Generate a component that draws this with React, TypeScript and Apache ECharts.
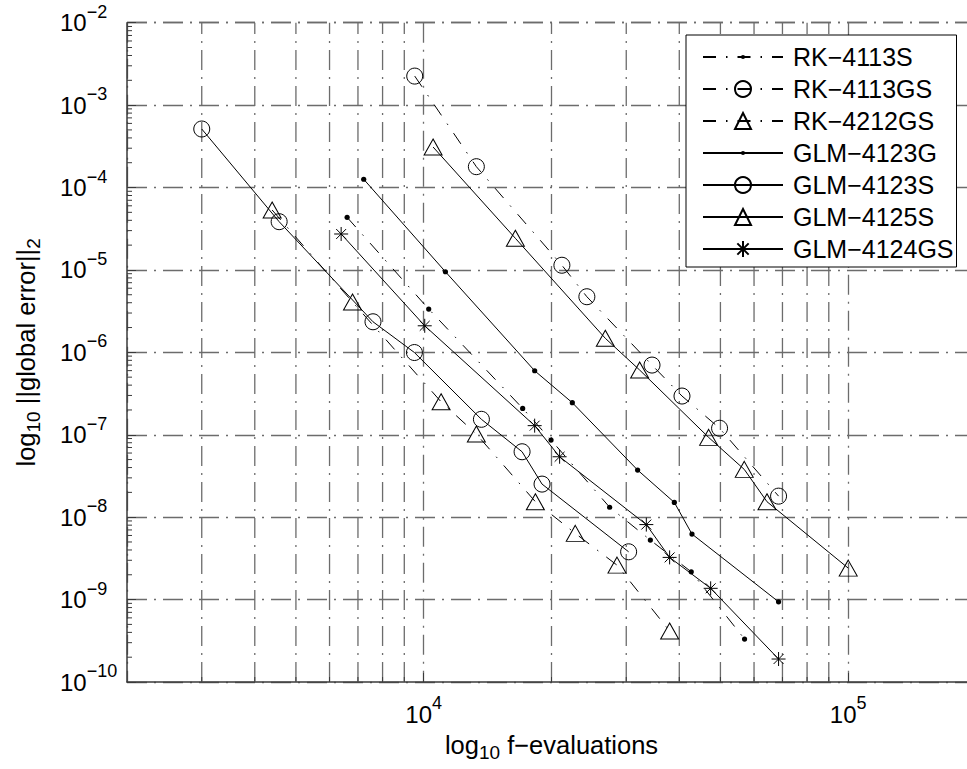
import React, { useEffect, useRef } from 'react';
import * as echarts from 'echarts';

// ---- data ----
const seriesNames = ['RK−4113S', 'RK−4113GS', 'RK−4212GS', 'GLM−4123G', 'GLM−4123S', 'GLM−4125S', 'GLM−4124GS'];

const rk4113sX = [6600, 10275, 17105, 19950, 27415, 34190, 42680, 56990];
const rk4113sY = [4.35e-5, 3.35e-6, 2.09e-7, 8.63e-8, 1.32e-8, 5.27e-9, 2.17e-9, 3.32e-10];

const rk4113gsX = [9524, 13305, 21160, 24230, 34500, 40590, 49770, 68540];
const rk4113gsY = [2.25e-3, 1.79e-4, 1.14e-5, 4.73e-6, 7.01e-7, 2.95e-7, 1.2e-7, 1.8e-8];

const rk4212gsX = [4395, 6796, 10990, 13305, 18325, 22750, 28530, 37960];
const rk4212gsY = [5.33e-5, 4.08e-6, 2.51e-7, 1.02e-7, 1.54e-8, 6.36e-9, 2.62e-9, 4.15e-10];

const glm4123gX = [7222, 11250, 18255, 22390, 31910, 38940, 42850, 68540];
const glm4123gY = [1.26e-4, 9.51e-6, 5.98e-7, 2.45e-7, 3.73e-8, 1.51e-8, 6.24e-9, 9.4e-10];

const glm4123sX = [3000, 4565, 7595, 9508, 13675, 17050, 19000, 30390];
const glm4123sY = [5.13e-4, 3.85e-5, 2.35e-6, 9.95e-7, 1.54e-7, 6.22e-8, 2.52e-8, 3.8e-9];

const glm4125sX = [10522, 16440, 26780, 32260, 46900, 56900, 64370, 100000];
const glm4125sY = [3.1e-4, 2.42e-5, 1.48e-6, 6.1e-7, 9.29e-8, 3.8e-8, 1.54e-8, 2.41e-9];

const glm4124gsX = [6390, 10055, 18255, 20900, 33450, 37960, 47420, 68540];
const glm4124gsY = [2.73e-5, 2.1e-6, 1.29e-7, 5.41e-8, 8.13e-9, 3.25e-9, 1.37e-9, 1.9e-10];

// axis ranges and minor tick positions
const xMin = 2000;
const xMax = 200000;
const yMin = 1e-10;
const yMax = 1e-2;
const minorMultipliers = [2, 3, 4, 5, 6, 7, 8, 9];
const xDecades = [1000, 10000, 100000];
const yDecades = [1e-10, 1e-9, 1e-8, 1e-7, 1e-6, 1e-5, 1e-4, 1e-3];

const FONT = '"Liberation Sans", Arial, Helvetica, sans-serif';
const GRID = '#6c6c6c';
const AX = '#3a3a3a';
const GRID_DASH = [20, 7, 2, 7];
const LINE_DASH = [13, 10, 1.5, 10];

const DOT = 'path://M0,0 M20,20 M10,7.4 A2.6,2.6 0 1 1 10,12.6 A2.6,2.6 0 1 1 10,7.4 Z';
const STAR = 'path://M0,7 L14,7 M7,0 L7,14 M2.05,2.05 L11.95,11.95 M11.95,2.05 L2.05,11.95';

function pairs(xs: number[], ys: number[]) {
  return xs.map((x, i) => [x, ys[i]]);
}

function lineSeries(name: string, data: number[][], dashed: boolean, symbol: string, size: any, filled: boolean) {
  return {
    type: 'line',
    name,
    data,
    symbol,
    symbolSize: size,
    showSymbol: true,
    silent: true,
    z: 3,
    lineStyle: { color: '#000', width: 1, type: dashed ? LINE_DASH : 'solid' },
    itemStyle: {
      color: filled ? '#000' : 'transparent',
      borderColor: '#000',
      borderWidth: filled ? 0 : 1,
    },
    emphasis: { disabled: true },
  };
}

const tickRich = {
  b: { fontFamily: FONT, fontSize: 24, lineHeight: 40, verticalAlign: 'middle', color: '#000' },
  s: { fontFamily: FONT, fontSize: 18, lineHeight: 18, verticalAlign: 'top', color: '#000' },
};

const nameRich = {
  a: { fontFamily: FONT, fontSize: 25.5, lineHeight: 30, verticalAlign: 'top', color: '#000' },
  u: { fontFamily: FONT, fontSize: 19, lineHeight: 19, verticalAlign: 'bottom', color: '#000' },
};

function powLabel(v: number) {
  const e = Math.round(Math.log10(v));
  const s = e < 0 ? '−' + String(-e) : String(e);
  return '{b|10}{s|' + s + '}';
}

export default function App() {
  const ref = useRef<HTMLDivElement>(null);

  useEffect(() => {
    if (!ref.current) return;
    const chart = echarts.init(ref.current, null, { renderer: 'svg' });

    const xMinor: number[] = [];
    xDecades.forEach((d) => minorMultipliers.forEach((m) => {
      const v = d * m;
      if (v > xMin && v < xMax) xMinor.push(v);
    }));
    const yMinor: number[] = [];
    yDecades.forEach((d) => minorMultipliers.forEach((m) => yMinor.push(d * m)));

    const option: any = {
      animation: false,
      backgroundColor: '#fff',
      grid: { left: 127, right: -9, top: 22.7, bottom: 87, outerBoundsMode: 'none', containLabel: false },
      xAxis: {
        type: 'log',
        logBase: 10,
        min: xMin,
        max: xMax,
        axisLine: { show: true, onZero: false, lineStyle: { color: AX, width: 1.5 } },
        axisTick: { show: true, inside: true, length: 9, lineStyle: { color: AX, width: 1 } },
        splitLine: { show: true, lineStyle: { color: GRID, width: 1.3, type: GRID_DASH } },
        axisLabel: {
          showMinLabel: false,
          showMaxLabel: false,
          margin: 12,
          formatter: (v: number) => powLabel(v),
          rich: tickRich,
        },
        name: '{a|log}{u|10}{a| f−evaluations}',
        nameLocation: 'middle',
        nameGap: 50,
        nameTextStyle: { rich: nameRich },
      },
      yAxis: {
        type: 'log',
        logBase: 10,
        min: yMin,
        max: yMax,
        axisLine: { show: true, onZero: false, lineStyle: { color: AX, width: 1.5 } },
        axisTick: { show: true, inside: true, length: 9, lineStyle: { color: AX, width: 1 } },
        splitLine: { show: true, lineStyle: { color: GRID, width: 1.3, type: GRID_DASH } },
        axisLabel: {
          align: 'left',
          margin: 67,
          formatter: (v: number) => powLabel(v),
          rich: tickRich,
        },
        name: '{a|log}{u|10}{a| ||global error||}{u|2}',
        nameLocation: 'middle',
        nameGap: 84,
        nameTextStyle: { rich: nameRich },
      },
      legend: {
        orient: 'vertical',
        left: 686,
        top: 35,
        data: seriesNames,
        itemWidth: 80,
        itemHeight: 20,
        itemGap: 6,
        padding: [9, 3, 5, 16],
        backgroundColor: '#fff',
        borderColor: '#000',
        borderWidth: 1,
        borderRadius: 0,
        selectedMode: false,
        textStyle: { fontFamily: FONT, fontSize: 25, lineHeight: 26, color: '#000', padding: [0, 0, 0, 5] },
      },
      series: [
        {
          type: 'custom',
          name: 'xminor',
          silent: true,
          z: 1,
          clip: false,
          data: xMinor.map((v) => [v, yMin]),
          renderItem: (params: any, api: any) => {
            const p = api.coord([api.value(0), api.value(1)]);
            const cs = params.coordSys;
            const b = cs.y + cs.height;
            return {
              type: 'group',
              children: [
                { type: 'line', shape: { x1: p[0], y1: b, x2: p[0], y2: cs.y }, style: { stroke: GRID, lineWidth: 1.3, lineDash: GRID_DASH } },
                { type: 'line', shape: { x1: p[0], y1: b, x2: p[0], y2: b - 5 }, style: { stroke: AX, lineWidth: 1 } },
              ],
            };
          },
        },
        {
          type: 'custom',
          name: 'yminor',
          silent: true,
          z: 1,
          clip: false,
          data: yMinor.map((v) => [xMin, v]),
          renderItem: (params: any, api: any) => {
            const p = api.coord([api.value(0), api.value(1)]);
            const cs = params.coordSys;
            return {
              type: 'line',
              shape: { x1: cs.x, y1: p[1], x2: cs.x + 5, y2: p[1] },
              style: { stroke: AX, lineWidth: 1 },
            };
          },
        },
        lineSeries(seriesNames[0], pairs(rk4113sX, rk4113sY), true, DOT, 20, true),
        lineSeries(seriesNames[1], pairs(rk4113gsX, rk4113gsY), true, 'circle', 16, false),
        lineSeries(seriesNames[2], pairs(rk4212gsX, rk4212gsY), true, 'triangle', [18, 16], false),
        lineSeries(seriesNames[3], pairs(glm4123gX, glm4123gY), false, DOT, 20, true),
        lineSeries(seriesNames[4], pairs(glm4123sX, glm4123sY), false, 'circle', 16, false),
        lineSeries(seriesNames[5], pairs(glm4125sX, glm4125sY), false, 'triangle', [18, 16], false),
        lineSeries(seriesNames[6], pairs(glm4124gsX, glm4124gsY), false, STAR, 14, false),
      ],
    };

    chart.setOption(option);
    return () => chart.dispose();
  }, []);

  return (
    <div
      ref={ref}
      style={{ position: 'fixed', left: 0, top: 0, width: 967, height: 769, background: '#fff' }}
    />
  );
}
